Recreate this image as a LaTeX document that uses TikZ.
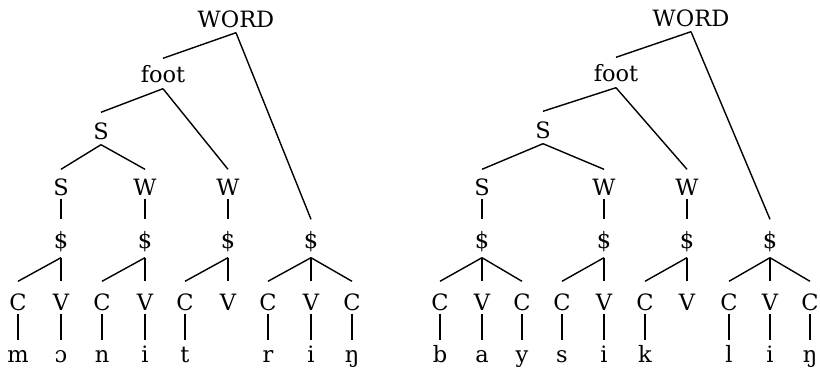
\documentclass[tikz,border=0pt]{standalone}
\usepackage{fontspec}
\setmainfont{DejaVu Serif}
\begin{document}
\begin{tikzpicture}[x=1pt,y=-1pt,line width=1.4pt,
  lab/.style={anchor=base,inner sep=0pt,font=\fontsize{22.5}{22.5}\selectfont},
  wordn/.style={lab,text height=16pt,text depth=5pt},
  footn/.style={lab,text height=23pt,text depth=6pt},
  stwo/.style={lab,text height=26pt,text depth=5pt},
  swn/.style={lab,text height=25pt,text depth=3pt},
  syl/.style={lab,text height=28pt,text depth=9pt},
  seg/.style={lab,text height=28pt,text depth=3pt},
  ph/.style={lab,text height=21pt,text depth=0pt}]
\useasboundingbox (0,0) rectangle (820,370);

% ---------- first tree ----------
\node[wordn] (Lw) at (236,27) {WORD};
\node[footn] (Lf) at (163,82) {foot};
\node[stwo]  (Ls) at (101,139) {S};
\node[swn] (La) at (61,195) {S};
\node[swn] (Lb) at (145,195) {W};
\node[swn] (Lc) at (228,195) {W};
\node[syl] (L1) at (61,248) {\$};
\node[syl] (L2) at (145,248) {\$};
\node[syl] (L3) at (228,248) {\$};
\node[syl] (L4) at (311,248) {\$};
\node[seg] (L1c) at (18,310) {C};
\node[seg] (L1v) at (61,310) {V};
\node[seg] (L2c) at (102,310) {C};
\node[seg] (L2v) at (145,310) {V};
\node[seg] (L3c) at (185,310) {C};
\node[seg] (L3v) at (228,310) {V};
\node[seg] (L4c) at (268,310) {C};
\node[seg] (L4v) at (311,310) {V};
\node[seg] (L4d) at (352,310) {C};
\node[ph] (Lp1) at (18,362) {m};
\node[ph] (Lp2) at (61,362) {ɔ};
\node[ph] (Lp3) at (102,362) {n};
\node[ph] (Lp4) at (145,362) {i};
\node[ph] (Lp5) at (185,362) {t};
\node[ph] (Lp6) at (268,362) {r};
\node[ph] (Lp7) at (311,362) {i};
\node[ph] (Lp8) at (352,362) {ŋ};

\draw (Lw.south) -- (Lf.north);
\draw (Lw.south) -- (L4.north);
\draw (Lf.south) -- (Ls.north);
\draw (Lf.south) -- (Lc.north);
\draw (Ls.south) -- (La.north);
\draw (Ls.south) -- (Lb.north);
\draw (La.south) -- (L1.north);
\draw (Lb.south) -- (L2.north);
\draw (Lc.south) -- (L3.north);
\draw (L1.south) -- (L1c.north);
\draw (L1.south) -- (L1v.north);
\draw (L2.south) -- (L2c.north);
\draw (L2.south) -- (L2v.north);
\draw (L3.south) -- (L3c.north);
\draw (L3.south) -- (L3v.north);
\draw (L4.south) -- (L4c.north);
\draw (L4.south) -- (L4v.north);
\draw (L4.south) -- (L4d.north);
\draw (L1c.south) -- (Lp1.north);
\draw (L1v.south) -- (Lp2.north);
\draw (L2c.south) -- (Lp3.north);
\draw (L2v.south) -- (Lp4.north);
\draw (L3c.south) -- (Lp5.north);
\draw (L4c.south) -- (Lp6.north);
\draw (L4v.south) -- (Lp7.north);
\draw (L4d.south) -- (Lp8.north);

% ---------- second tree ----------
\node[wordn] (Rw) at (691,26) {WORD};
\node[footn] (Rf) at (616,81) {foot};
\node[stwo]  (Rs) at (543,138) {S};
\node[swn] (Ra) at (482,195) {S};
\node[swn] (Rb) at (604,195) {W};
\node[swn] (Rc) at (687,195) {W};
\node[syl] (R1) at (482,248) {\$};
\node[syl] (R2) at (604,248) {\$};
\node[syl] (R3) at (687,248) {\$};
\node[syl] (R4) at (770,248) {\$};
\node[seg] (R1c) at (440,310) {C};
\node[seg] (R1v) at (482,310) {V};
\node[seg] (R1d) at (522,310) {C};
\node[seg] (R2c) at (562,310) {C};
\node[seg] (R2v) at (604,310) {V};
\node[seg] (R3c) at (645,310) {C};
\node[seg] (R3v) at (687,310) {V};
\node[seg] (R4c) at (729,310) {C};
\node[seg] (R4v) at (770,310) {V};
\node[seg] (R4d) at (810,310) {C};
\node[ph] (Rp1) at (440,362) {b};
\node[ph] (Rp2) at (482,362) {a};
\node[ph] (Rp3) at (522,362) {y};
\node[ph] (Rp4) at (562,362) {s};
\node[ph] (Rp5) at (604,362) {i};
\node[ph] (Rp6) at (645,362) {k};
\node[ph] (Rp7) at (729,362) {l};
\node[ph] (Rp8) at (770,362) {i};
\node[ph] (Rp9) at (810,362) {ŋ};

\draw (Rw.south) -- (Rf.north);
\draw (Rw.south) -- (R4.north);
\draw (Rf.south) -- (Rs.north);
\draw (Rf.south) -- (Rc.north);
\draw (Rs.south) -- (Ra.north);
\draw (Rs.south) -- (Rb.north);
\draw (Ra.south) -- (R1.north);
\draw (Rb.south) -- (R2.north);
\draw (Rc.south) -- (R3.north);
\draw (R1.south) -- (R1c.north);
\draw (R1.south) -- (R1v.north);
\draw (R1.south) -- (R1d.north);
\draw (R2.south) -- (R2c.north);
\draw (R2.south) -- (R2v.north);
\draw (R3.south) -- (R3c.north);
\draw (R3.south) -- (R3v.north);
\draw (R4.south) -- (R4c.north);
\draw (R4.south) -- (R4v.north);
\draw (R4.south) -- (R4d.north);
\draw (R1c.south) -- (Rp1.north);
\draw (R1v.south) -- (Rp2.north);
\draw (R1d.south) -- (Rp3.north);
\draw (R2c.south) -- (Rp4.north);
\draw (R2v.south) -- (Rp5.north);
\draw (R3c.south) -- (Rp6.north);
\draw (R4c.south) -- (Rp7.north);
\draw (R4v.south) -- (Rp8.north);
\draw (R4d.south) -- (Rp9.north);
\end{tikzpicture}
\end{document}
